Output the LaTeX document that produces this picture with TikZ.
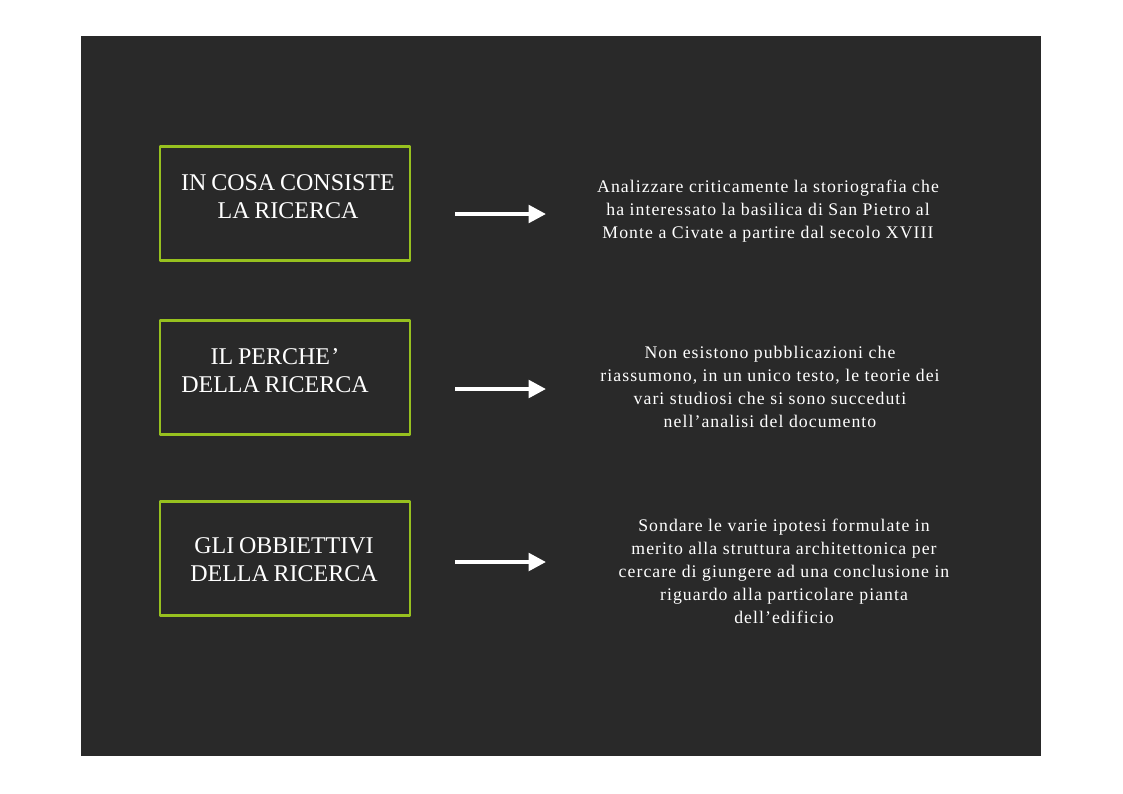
\documentclass[tikz,border=0pt]{standalone}
\usepackage{fontspec}
\usetikzlibrary{arrows.meta}
\setmainfont{Liberation Serif}
\newfontfamily\boxfont[WordSpace=0.8]{Liberation Serif}
\newfontfamily\spacedfont[LetterSpace=6]{Liberation Serif}
\definecolor{fondo}{HTML}{292929}
\definecolor{verde}{HTML}{97C11F}
\begin{document}
\begin{tikzpicture}[x=0.75pt,y=-0.75pt,line join=round]
\tikzset{box/.style={draw=verde,line width=2.2pt,minimum width=187.5pt,minimum height=85pt,inner sep=0pt},
	boxtext/.style={text=white,align=center,font=\boxfont\fontsize{18}{21}\selectfont},
	desc/.style={text=white,align=center,font=\spacedfont\fontsize{13.3}{17.2}\selectfont},
	freccia/.style={-{Triangle[length=13pt,width=13pt]},draw=white,fill=white,line width=3pt}}
\useasboundingbox (0,0) rectangle (1123,793);
\fill[white] (0,0) rectangle (1123,793);
\fill[fondo] (81,36) rectangle (1041,756);
% riquadri
\node[box] (b1) at (285,203.5) {};
\node[box] (b2) at (285,377.5) {};
\node[box] (b3) at (285,558.5) {};
\node[boxtext] (t1) at (288,197) {IN COSA CONSISTE\\LA RICERCA};
\node[boxtext] (t2) at (275,371) {IL PERCHE\kern1pt’\\DELLA RICERCA};
\node[boxtext] (t3) at (284,560) {GLI OBBIETTIVI\\DELLA RICERCA};
% testi
\node[desc] (d1) at (768,211) {Analizzare criticamente la storiografia che\\ha interessato la basilica di San Pietro al\\Monte a Civate a partire dal secolo XVIII};
\node[desc] (d2) at (770,387) {Non esistono pubblicazioni che\\riassumono, in un unico testo, le teorie dei\\vari studiosi che si sono succeduti\\nell’analisi del documento};
\node[desc] (d3) at (784,571) {Sondare le varie ipotesi formulate in\\merito alla struttura architettonica per\\cercare di giungere ad una conclusione in\\riguardo alla particolare pianta\\dell’edificio};
% frecce
\foreach \n/\y in {1/214,2/389,3/562}{
	\coordinate (s\n) at (455,\y);
	\coordinate (e\n) at (546,\y);
	\draw[freccia] (s\n)--(e\n);
}
\end{tikzpicture}
\end{document}
